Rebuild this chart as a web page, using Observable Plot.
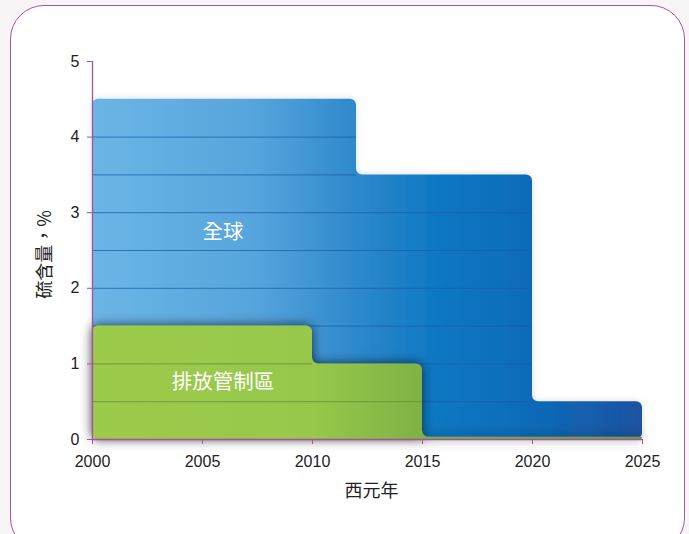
<!DOCTYPE html>
<html><head><meta charset="utf-8">
<script src="https://cdn.jsdelivr.net/npm/d3@7"></script>
<script src="https://cdn.jsdelivr.net/npm/@observablehq/plot@0.6"></script>
<style>
html,body{margin:0;padding:0;background:#f7f5f6;width:689px;height:534px;overflow:hidden}
#frame{position:absolute;left:10px;top:5px;width:673px;height:545px;border:1.3px solid #a5569f;border-radius:34px;background:#fff}
#chart{position:absolute;left:0;top:0}
</style></head><body><div id="frame"></div><div id="chart"></div>
<script>
// ---- data ----
const globalYears = [2000, 2012, 2020, 2025];
const globalLimits = [4.5, 3.5, 0.5];
const ecaYears = [2000, 2010, 2015, 2025];
const ecaLimits = [1.5, 1.0, 0.03];
const gridLevels = [0.5, 1, 1.5, 2, 2.5, 3, 3.5, 4, 4.5];
const xTicks = [2000, 2005, 2010, 2015, 2020, 2025];
const yTicks = [0, 1, 2, 3, 4, 5];
const areaLabels = ["全球", "排放管制區"];
const areaLabelYears = [2005.93, 2005.93];
const areaLabelValues = [2.74, 0.75];
const xTitle = "西元年";
const yTitle = "硫含量，%";

// ---- derived tables ----
function stepPoints(years, limits) {
  return years.map((yr, i) => ({year: yr, v: limits[Math.min(i, limits.length - 1)]}));
}
function grid(years, limits) {
  const out = [];
  limits.forEach((v, i) => gridLevels.forEach(l => { if (l < v - 1e-9) out.push({x1: years[i], x2: years[i + 1], y: l}); }));
  return out;
}
const labelRows = areaLabels.map((t, i) => ({t, x: areaLabelYears[i], y: areaLabelValues[i]}));

// custom d3 curve: step-after outline with every corner rounded (convex and concave)
function roundedStep(r) {
  return function(context) {
    let lines = [], cur = null, inArea = false;
    function draw(ls) {
      const top = ls[0] || [];
      let poly = [];
      for (let i = 0; i < top.length; i++) {
        if (i > 0) poly.push([top[i][0], top[i - 1][1]]);
        poly.push(top[i]);
      }
      if (ls[1]) poly = poly.concat(ls[1]);
      let p2 = [];
      for (const p of poly) {
        const q = p2[p2.length - 1];
        if (!q || Math.abs(q[0] - p[0]) > 1e-6 || Math.abs(q[1] - p[1]) > 1e-6) p2.push(p);
      }
      const m = p2.length;
      if (m < 3) return;
      const last = p2[m - 1], first = p2[0];
      context.moveTo((last[0] + first[0]) / 2, (last[1] + first[1]) / 2);
      for (let i = 0; i < m; i++) {
        const p = p2[(i - 1 + m) % m], v = p2[i], nx = p2[(i + 1) % m];
        const d1 = Math.hypot(v[0] - p[0], v[1] - p[1]), d2 = Math.hypot(nx[0] - v[0], nx[1] - v[1]);
        const rr = Math.min(r, d1 / 2, d2 / 2);
        context.arcTo(v[0], v[1], nx[0], nx[1], rr);
      }
      context.closePath();
    }
    return {
      areaStart() { inArea = true; lines = []; },
      areaEnd() { draw(lines); inArea = false; lines = []; },
      lineStart() { cur = []; },
      lineEnd() { lines.push(cur); if (!inArea) { draw(lines); lines = []; } },
      point(x, y) { cur.push([+x, +y]); }
    };
  };
}

const axisColor = "#a8519e";
const cjk = "'Noto Sans CJK TC','Noto Sans CJK SC',sans-serif";

const chart = Plot.plot({
  width: 689, height: 534,
  marginLeft: 92, marginRight: 47, marginTop: 61, marginBottom: 95,
  x: {domain: [2000, 2025]},
  y: {domain: [0, 5]},
  style: {background: "transparent", fontFamily: "'Liberation Sans', Arial, sans-serif", fontSize: "16px", color: "#222"},
  marks: [
    Plot.areaY(stepPoints(globalYears, globalLimits), {x: "year", y1: 0, y2: "v", curve: roundedStep(6), fill: "url(#gBlue)"}),
    Plot.ruleY(grid(globalYears, globalLimits), {y: "y", x1: "x1", x2: "x2", stroke: "#1b5ea8", strokeOpacity: 0.75, strokeWidth: 1}),
    Plot.areaY(stepPoints(ecaYears, ecaLimits), {x: "year", y1: 0, y2: "v", curve: roundedStep(6), fill: "url(#gGreen)"}),
    Plot.ruleY(grid(ecaYears, ecaLimits), {y: "y", x1: "x1", x2: "x2", stroke: "#5f9430", strokeOpacity: 0.8, strokeWidth: 1}),
    Plot.text(labelRows, {x: "x", y: "y", text: "t", fill: "white", fontSize: 20.5, fontFamily: cjk}),
    Plot.ruleX([2000], {stroke: axisColor, strokeWidth: 1.3}),
    Plot.ruleY([0], {stroke: axisColor, strokeWidth: 1.3}),
    Plot.axisX(xTicks, {tickSize: 5, tickPadding: 11, stroke: axisColor, fill: "#222", tickFormat: d => String(d), label: null, fontSize: 16}),
    Plot.axisY(yTicks, {tickSize: 5, tickPadding: 8, stroke: axisColor, fill: "#222", tickFormat: d => String(d), label: null, fontSize: 16}),
    Plot.text([xTitle], {frameAnchor: "bottom", dy: 52, dx: 4, lineAnchor: "middle", textAnchor: "middle", text: d => d, fontSize: 18, fill: "#222", fontFamily: cjk}),
    Plot.text([yTitle], {frameAnchor: "left", dx: -47, dy: 4, rotate: -90, lineAnchor: "middle", textAnchor: "middle", text: d => d, fontSize: 18, fill: "#222", fontFamily: cjk})
  ]
});

const xs = chart.scale("x");
const svg = d3.select(chart);
const defs = svg.insert("defs", ":first-child");
const x0 = xs.apply(2000), x1 = xs.apply(2025);
function grad(id, stops) {
  const g = defs.append("linearGradient").attr("id", id).attr("gradientUnits", "userSpaceOnUse")
    .attr("x1", x0).attr("x2", x1).attr("y1", 0).attr("y2", 0);
  stops.forEach(([o, c]) => g.append("stop").attr("offset", o).attr("stop-color", c));
}
grad("gBlue", [[0, "#6bb6e6"], [0.3, "#56a4dc"], [0.48, "#2e89cc"], [0.64, "#0a76c2"], [0.8, "#0c6bb9"], [1, "#1c52a1"]]);
grad("gGreen", [[0, "#9dcb4c"], [0.4, "#97c84b"], [0.6, "#7eb244"], [1, "#6a9f3c"]]);
function shadow(id, sd, op) {
  const f = defs.append("filter").attr("id", id).attr("x", "-15%").attr("y", "-40%").attr("width", "130%").attr("height", "180%");
  f.append("feDropShadow").attr("dx", 0).attr("dy", 0).attr("stdDeviation", sd).attr("flood-color", "#000").attr("flood-opacity", op);
}
shadow("sBlue", 3, 0.15);
shadow("sGreen", 6, 0.7);
const areaGroups = svg.selectAll("g[aria-label='area']").nodes();
if (areaGroups[0]) d3.select(areaGroups[0]).attr("filter", "url(#sBlue)");
if (areaGroups[1]) d3.select(areaGroups[1]).attr("filter", "url(#sGreen)");

document.getElementById("chart").appendChild(chart);
</script>
</body></html>
